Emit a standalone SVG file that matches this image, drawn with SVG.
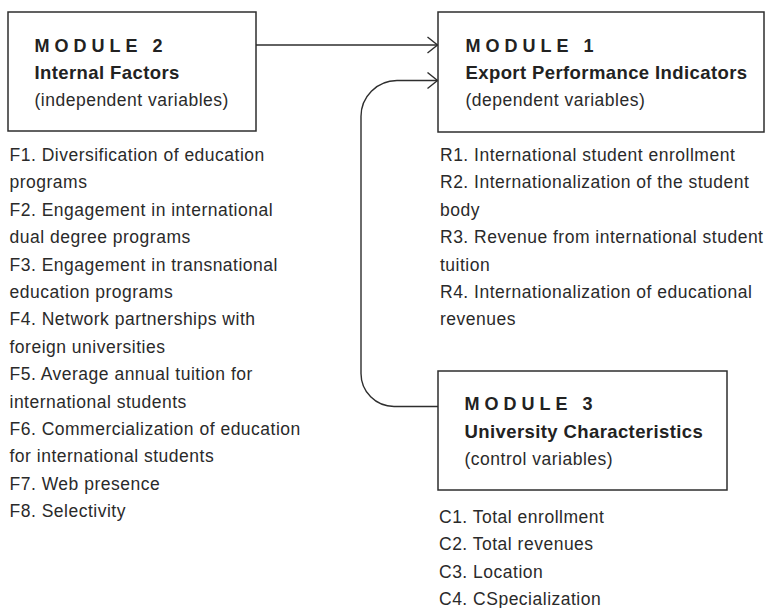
<svg xmlns="http://www.w3.org/2000/svg" width="768" height="608" viewBox="0 0 768 608">
  <style>
    .box { fill: #ffffff; stroke: #2e2e2e; stroke-width: 1.5; }
    .wire { fill: none; stroke: #2e2e2e; stroke-width: 1.4; }
    .mod { font-family: "Liberation Sans", Arial, sans-serif; font-weight: bold; font-size: 18px; letter-spacing: 5px; fill: #222; }
    .ttl { font-family: "Liberation Sans", Arial, sans-serif; font-weight: bold; font-size: 18.5px; letter-spacing: 0.4px; fill: #222; }
    .txt { font-family: "Liberation Sans", Arial, sans-serif; font-size: 17.5px; letter-spacing: 0.5px; fill: #2a2a2a; }
  </style>
  <defs>
    <marker id="chev" viewBox="0 0 12 18" refX="11" refY="9" markerWidth="12" markerHeight="18" markerUnits="userSpaceOnUse" orient="auto">
      <path d="M1,1 L11,9 L1,17" fill="none" stroke="#2e2e2e" stroke-width="1.4"/>
    </marker>
  </defs>

  <rect width="768" height="608" fill="#ffffff"/>

  <!-- connectors -->
  <g id="connectors">
    <path class="wire" d="M256,45 H437.5" marker-end="url(#chev)"/>
    <path class="wire" d="M438,406.5 H394 A33,33 0 0 1 361,373.5 V117 A36,36 0 0 1 397,80.5 H437.5" marker-end="url(#chev)"/>
  </g>

  <!-- Module 2 -->
  <g id="module2">
    <rect class="box" x="8" y="12" width="248" height="119"/>
    <text class="mod" x="34.5" y="51.5">MODULE 2</text>
    <text class="ttl" x="34.5" y="79">Internal Factors</text>
    <text class="txt" x="34.5" y="106">(independent variables)</text>
  </g>

  <!-- Module 1 -->
  <g id="module1">
    <rect class="box" x="438" y="12" width="326" height="120"/>
    <text class="mod" x="465.5" y="51.5">MODULE 1</text>
    <text class="ttl" x="465.5" y="79">Export Performance Indicators</text>
    <text class="txt" x="465.5" y="106">(dependent variables)</text>
  </g>

  <!-- Module 3 -->
  <g id="module3">
    <rect class="box" x="438" y="371" width="289" height="119"/>
    <text class="mod" x="464.5" y="410">MODULE 3</text>
    <text class="ttl" x="464.5" y="437.5">University Characteristics</text>
    <text class="txt" x="464.5" y="464.5">(control variables)</text>
  </g>

  <!-- internal factors list -->
  <g id="factors">
    <text class="txt" x="9.5" y="161">
      <tspan x="9.5" y="161">F1. Diversification of education</tspan>
      <tspan x="9.5" dy="27.4">programs</tspan>
      <tspan x="9.5" dy="27.4">F2. Engagement in international</tspan>
      <tspan x="9.5" dy="27.4">dual degree programs</tspan>
      <tspan x="9.5" dy="27.4">F3. Engagement in transnational</tspan>
      <tspan x="9.5" dy="27.4">education programs</tspan>
      <tspan x="9.5" dy="27.4">F4. Network partnerships with</tspan>
      <tspan x="9.5" dy="27.4">foreign universities</tspan>
      <tspan x="9.5" dy="27.4">F5. Average annual tuition for</tspan>
      <tspan x="9.5" dy="27.4">international students</tspan>
      <tspan x="9.5" dy="27.4">F6. Commercialization of education</tspan>
      <tspan x="9.5" dy="27.4">for international students</tspan>
      <tspan x="9.5" dy="27.4">F7. Web presence</tspan>
      <tspan x="9.5" dy="27.4">F8. Selectivity</tspan>
    </text>
  </g>

  <!-- performance indicators list -->
  <g id="indicators">
    <text class="txt" x="440" y="161">
      <tspan x="440" y="161">R1. International student enrollment</tspan>
      <tspan x="440" dy="27.4">R2. Internationalization of the student</tspan>
      <tspan x="440" dy="27.4">body</tspan>
      <tspan x="440" dy="27.4">R3. Revenue from international student</tspan>
      <tspan x="440" dy="27.4">tuition</tspan>
      <tspan x="440" dy="27.4">R4. Internationalization of educational</tspan>
      <tspan x="440" dy="27.4">revenues</tspan>
    </text>
  </g>

  <!-- university characteristics list -->
  <g id="characteristics">
    <text class="txt" x="439" y="522.5">
      <tspan x="439" y="522.5">C1. Total enrollment</tspan>
      <tspan x="439" dy="27.5">C2. Total revenues</tspan>
      <tspan x="439" dy="27.5">C3. Location</tspan>
      <tspan x="439" dy="27.5">C4. CSpecialization</tspan>
    </text>
  </g>
</svg>
